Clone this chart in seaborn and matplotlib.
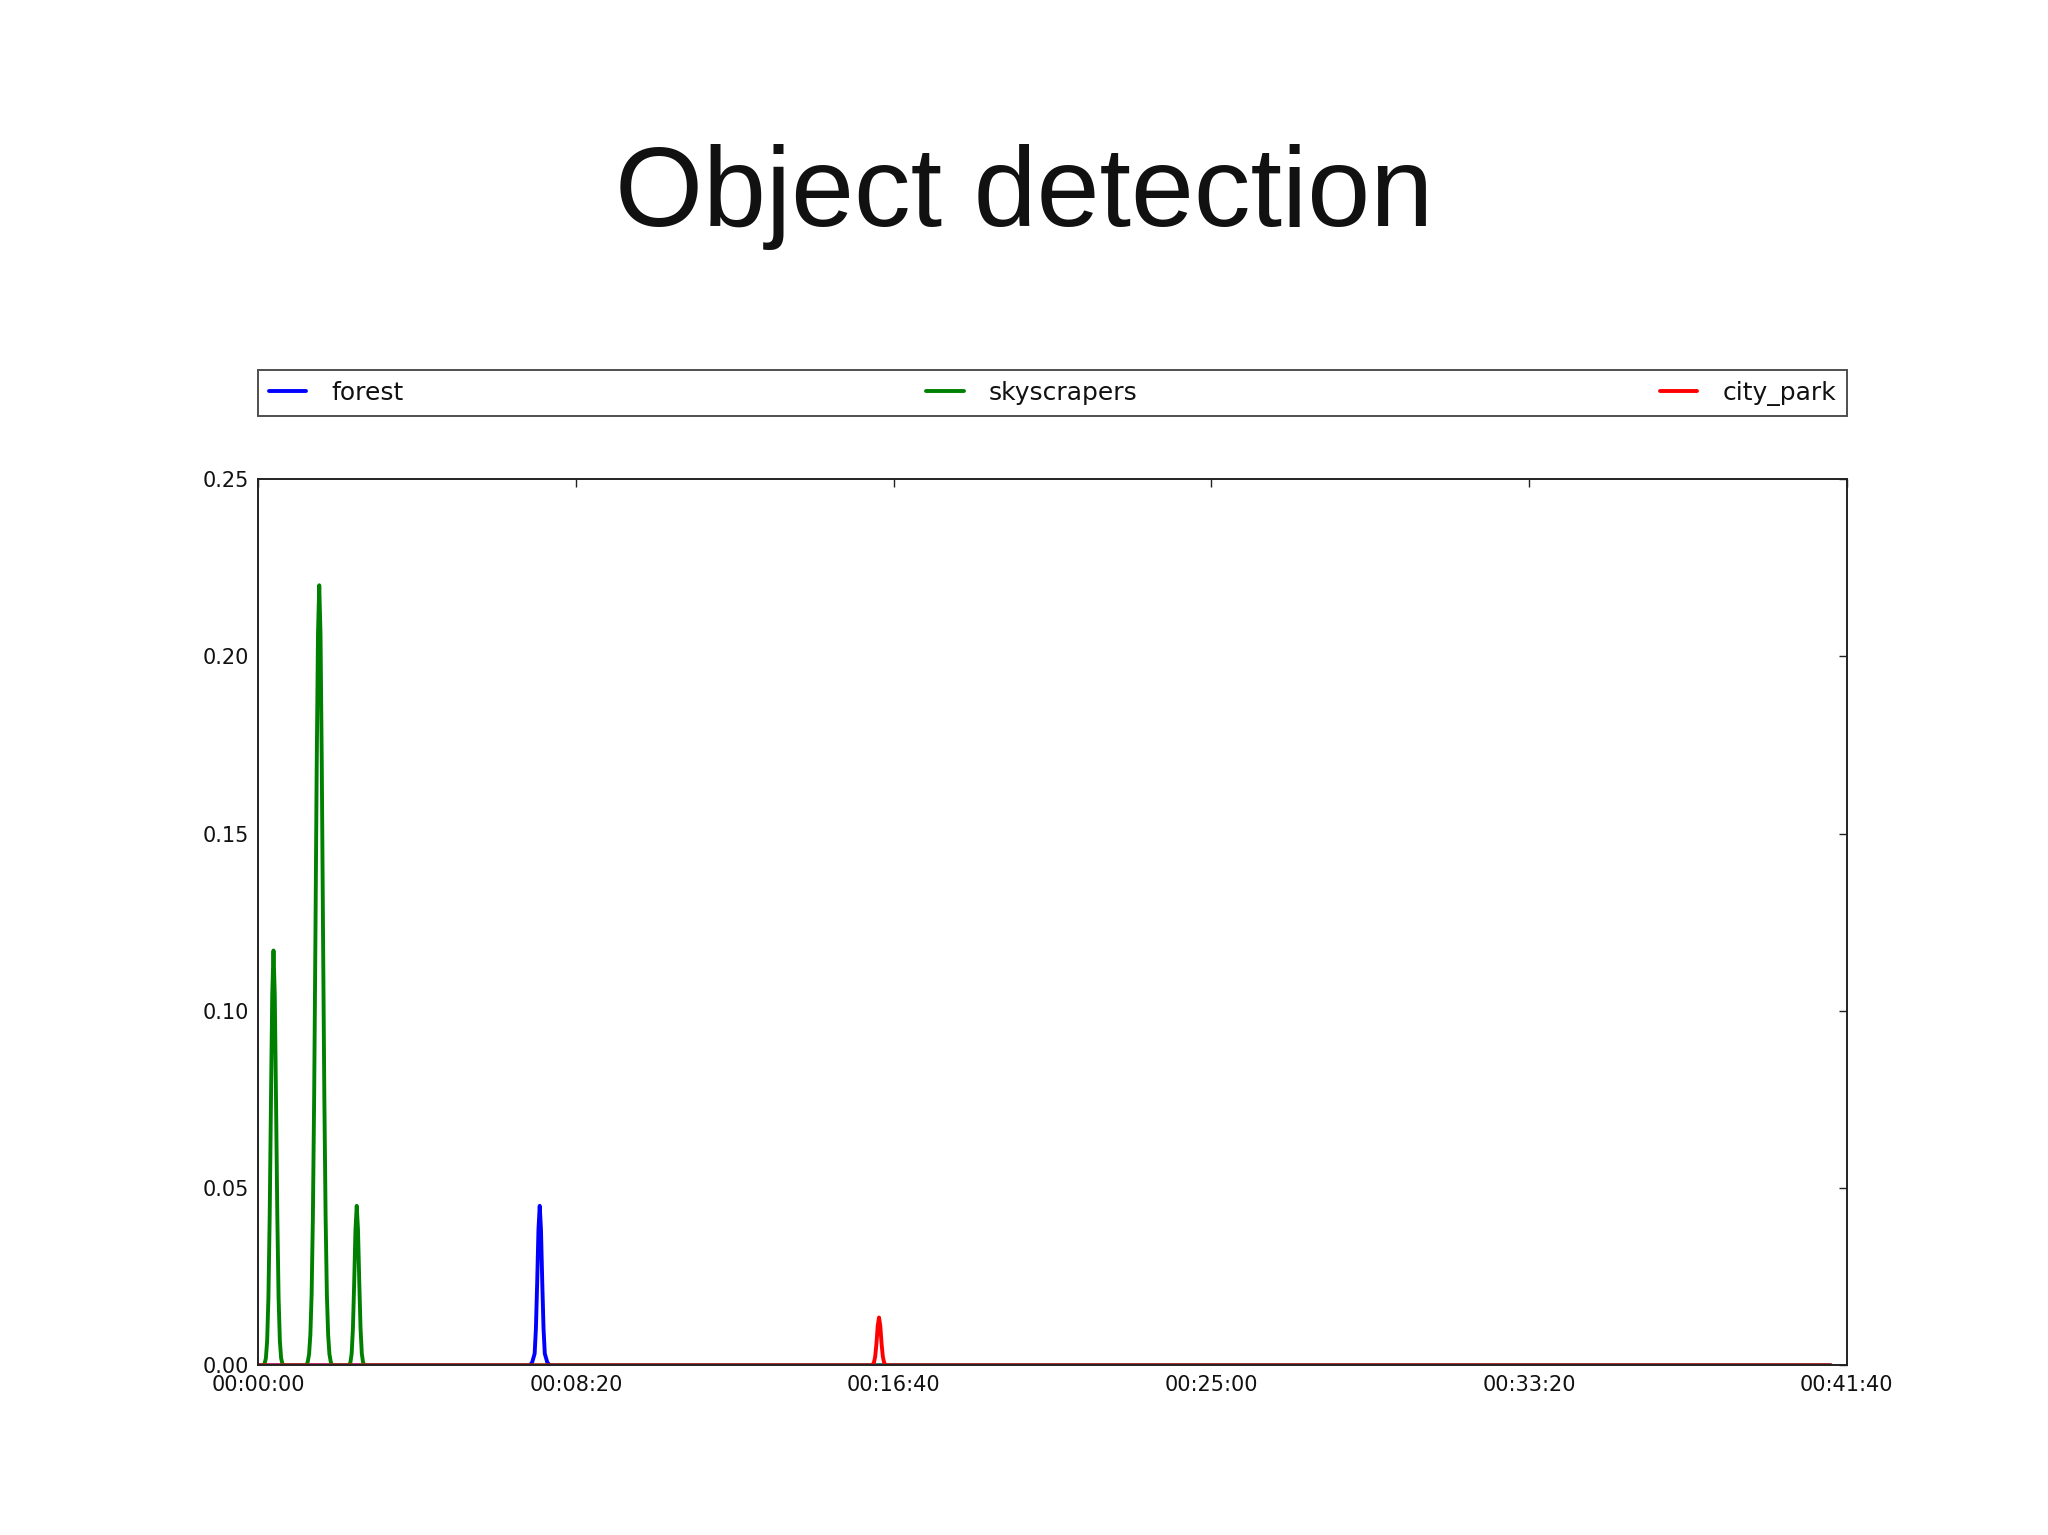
import matplotlib
matplotlib.use("Agg")
import matplotlib.pyplot as plt
import matplotlib.ticker as mticker
import numpy as np
import pandas as pd
import seaborn as sns

# ---------------- data (seconds, detection score) ----------------
labels = ["forest", "skyscrapers", "city_park"]
colors = ["#0000ff", "#008000", "#ff0000"]

forest_t = [0, 427, 431, 435, 437, 439, 441, 443, 445, 447, 449, 451, 455, 459, 2475]
forest_v = [0.0, 0.0, 0.0008, 0.0033, 0.0104, 0.0234, 0.0382, 0.045, 0.0382, 0.0234,
            0.0104, 0.0033, 0.0008, 0.0, 0.0]

sky_t = [0, 8, 10, 12, 14, 16, 18, 20, 22, 24, 26, 28, 30, 32, 34, 36, 38, 40,
         76, 78, 80, 82, 84, 86, 88, 90, 92, 94, 96, 98, 100, 102, 104, 106, 108, 110, 112, 114, 116,
         141, 143, 145, 147, 149, 151, 153, 155, 157, 159, 161, 163, 165, 167, 169, 2475]
sky_v = [0.0, 0.0, 0.0005, 0.0020, 0.0069, 0.0191, 0.0422, 0.0744, 0.1045, 0.117,
         0.1045, 0.0744, 0.0422, 0.0191, 0.0069, 0.0020, 0.0005, 0.0,
         0.0, 0.0011, 0.0032, 0.0086, 0.020, 0.042, 0.076, 0.121, 0.169, 0.206, 0.220,
         0.206, 0.169, 0.121, 0.076, 0.042, 0.020, 0.0086, 0.0032, 0.0011, 0.0,
         0.0, 0.0001, 0.0008, 0.0033, 0.0104, 0.0234, 0.0382, 0.045, 0.0382, 0.0234,
         0.0104, 0.0033, 0.0008, 0.0001, 0.0, 0.0]

park_t = [0, 965, 967, 969, 971, 973, 975, 977, 979, 981, 983, 985, 987, 989, 2475]
park_v = [0.0, 0.0, 0.0002, 0.0008, 0.0025, 0.0062, 0.0112, 0.0135, 0.0112, 0.0062,
          0.0025, 0.0008, 0.0002, 0.0, 0.0]

x_ticks = [0, 500, 1000, 1500, 2000, 2500]
y_ticks = [0.00, 0.05, 0.10, 0.15, 0.20, 0.25]
title = "Object detection"

df = pd.concat([
    pd.DataFrame({"time": forest_t, "score": forest_v, "label": labels[0]}),
    pd.DataFrame({"time": sky_t, "score": sky_v, "label": labels[1]}),
    pd.DataFrame({"time": park_t, "score": park_v, "label": labels[2]}),
], ignore_index=True)

# ---------------- figure ----------------
sns.set_style("white")
plt.rcParams["font.family"] = ["DejaVu Sans"]

fig = plt.figure(figsize=(20.48, 15.35), dpi=100)
ax = fig.add_axes([0.1261, 0.1105, 0.7756, 0.5775])

sns.lineplot(data=df, x="time", y="score", hue="label", hue_order=labels,
             palette=colors, linewidth=2.8, estimator=None, sort=False,
             ax=ax, legend=True)

ax.set_xlim(0, 2500)
ax.set_ylim(0, 0.25)
ax.set_xticks(x_ticks)
ax.set_yticks(y_ticks)


def hms(x, pos):
    x = int(round(x))
    return f"{x // 3600:02d}:{(x % 3600) // 60:02d}:{x % 60:02d}"


ax.xaxis.set_major_formatter(mticker.FuncFormatter(hms))
ax.yaxis.set_major_formatter(mticker.FormatStrFormatter("%.2f"))
ax.set_xlabel("")
ax.set_ylabel("")
ax.tick_params(axis="both", which="major", direction="in", top=True, right=True,
               length=6, width=1, labelsize=15, colors="#222222", pad=7,
               labelcolor="#111111")
for s in ax.spines.values():
    s.set_color("#222222")
    s.set_linewidth(1.4)

handles, lbls = ax.get_legend_handles_labels()
ax.get_legend().remove()
leg = fig.legend(handles, lbls, loc="lower left",
                 bbox_to_anchor=(0.1261, 0.7287, 0.7756, 0.030),
                 mode="expand", ncol=3, borderaxespad=0, fontsize=18,
                 handlelength=1.5, handletextpad=1.0, fancybox=False,
                 frameon=True, borderpad=0.42)
leg.get_frame().set_edgecolor("#222222")
leg.get_frame().set_linewidth(1.4)
for t in leg.get_texts():
    t.set_color("#111111")

fig.text(0.5, 0.8525, title, ha="center", va="baseline", fontsize=81.5,
         family=["Liberation Sans", "DejaVu Sans"], color="#111111")

fig.savefig("out.png", dpi=100, facecolor="white")
